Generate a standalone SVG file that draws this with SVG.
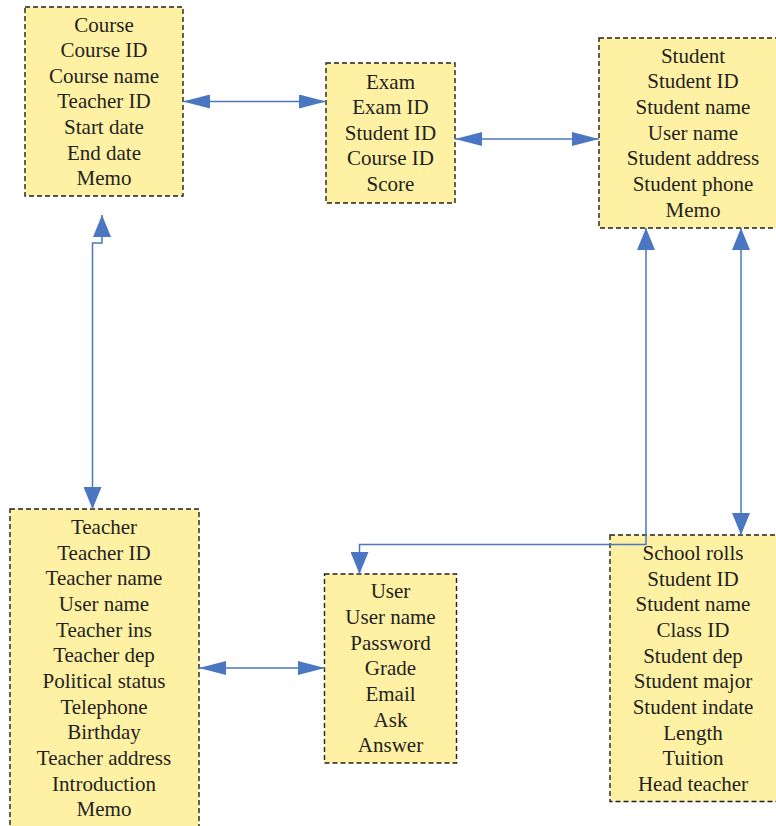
<svg xmlns="http://www.w3.org/2000/svg" width="776" height="826" viewBox="0 0 776 826">
<style>
.box{fill:#FFF1A4;stroke:#231F20;stroke-width:1.4;stroke-dasharray:5 3}
.t{font-family:"Liberation Serif","Times New Roman",serif;font-size:21px;fill:#231F20;text-anchor:middle}
.c{fill:none;stroke:#4A76C2;stroke-width:1.5}
.h{marker-start:url(#ah);marker-end:url(#ah)}
.v{marker-start:url(#av);marker-end:url(#av)}
</style>
<defs>
<marker id="ah" markerUnits="userSpaceOnUse" viewBox="0 0 27 14" markerWidth="27" markerHeight="14" refX="27" refY="7" orient="auto-start-reverse"><path d="M0,0 L27,7 L0,14 Z" fill="#4A76C2"/></marker>
<marker id="av" markerUnits="userSpaceOnUse" viewBox="0 0 22 18" markerWidth="22" markerHeight="18" refX="22" refY="9" orient="auto-start-reverse"><path d="M0,0 L22,9 L0,18 Z" fill="#4A76C2"/></marker>
</defs>
<rect width="776" height="826" fill="#FFFFFF"/>
<g id="course">
<rect class="box" x="25" y="7" width="158" height="189"/>
<text class="t" x="104" y="31.5">Course<tspan x="104" dy="25.65">Course ID</tspan><tspan x="104" dy="25.65">Course name</tspan><tspan x="104" dy="25.65">Teacher ID</tspan><tspan x="104" dy="25.65">Start date</tspan><tspan x="104" dy="25.65">End date</tspan><tspan x="104" dy="25.65">Memo</tspan></text>
</g>
<g id="exam">
<rect class="box" x="326" y="63" width="129" height="140"/>
<text class="t" x="390.5" y="88.5">Exam<tspan x="390.5" dy="25.65">Exam ID</tspan><tspan x="390.5" dy="25.65">Student ID</tspan><tspan x="390.5" dy="25.65">Course ID</tspan><tspan x="390.5" dy="25.65">Score</tspan></text>
</g>
<g id="student">
<rect class="box" x="599" y="38" width="188" height="190"/>
<text class="t" x="693" y="62.8">Student<tspan x="693" dy="25.65">Student ID</tspan><tspan x="693" dy="25.65">Student name</tspan><tspan x="693" dy="25.65">User name</tspan><tspan x="693" dy="25.65">Student address</tspan><tspan x="693" dy="25.65">Student phone</tspan><tspan x="693" dy="25.65">Memo</tspan></text>
</g>
<g id="teacher">
<rect class="box" x="10" y="509" width="189" height="325"/>
<text class="t" x="104" y="534">Teacher<tspan x="104" dy="25.65">Teacher ID</tspan><tspan x="104" dy="25.65">Teacher name</tspan><tspan x="104" dy="25.65">User name</tspan><tspan x="104" dy="25.65">Teacher ins</tspan><tspan x="104" dy="25.65">Teacher dep</tspan><tspan x="104" dy="25.65">Political status</tspan><tspan x="104" dy="25.65">Telephone</tspan><tspan x="104" dy="25.65">Birthday</tspan><tspan x="104" dy="25.65">Teacher address</tspan><tspan x="104" dy="25.65">Introduction</tspan><tspan x="104" dy="25.65">Memo</tspan></text>
</g>
<g id="user">
<rect class="box" x="324.5" y="574" width="132" height="189"/>
<text class="t" x="390.5" y="598.3">User<tspan x="390.5" dy="25.65">User name</tspan><tspan x="390.5" dy="25.65">Password</tspan><tspan x="390.5" dy="25.65">Grade</tspan><tspan x="390.5" dy="25.65">Email</tspan><tspan x="390.5" dy="25.65">Ask</tspan><tspan x="390.5" dy="25.65">Answer</tspan></text>
</g>
<g id="school-rolls">
<rect class="box" x="610" y="535" width="172" height="266.5"/>
<text class="t" x="693" y="560">School rolls<tspan x="693" dy="25.65">Student ID</tspan><tspan x="693" dy="25.65">Student name</tspan><tspan x="693" dy="25.65">Class ID</tspan><tspan x="693" dy="25.65">Student dep</tspan><tspan x="693" dy="25.65">Student major</tspan><tspan x="693" dy="25.65">Student indate</tspan><tspan x="693" dy="25.65">Length</tspan><tspan x="693" dy="25.65">Tuition</tspan><tspan x="693" dy="25.65">Head teacher</tspan></text>
</g>
<g id="connectors">
<path class="c h" d="M183,101.5 L326,101.5"/>
<path class="c h" d="M455,139 L599,139"/>
<path class="c h" d="M199,668 L325,668"/>
<path class="c v" d="M102,215 L102,243 L92.5,243 L92.5,509"/>
<path class="c v" d="M646,228 L646,544.5 L359.5,544.5 L359.5,574"/>
<path class="c v" d="M741,228 L741,535"/>
</g>
</svg>
